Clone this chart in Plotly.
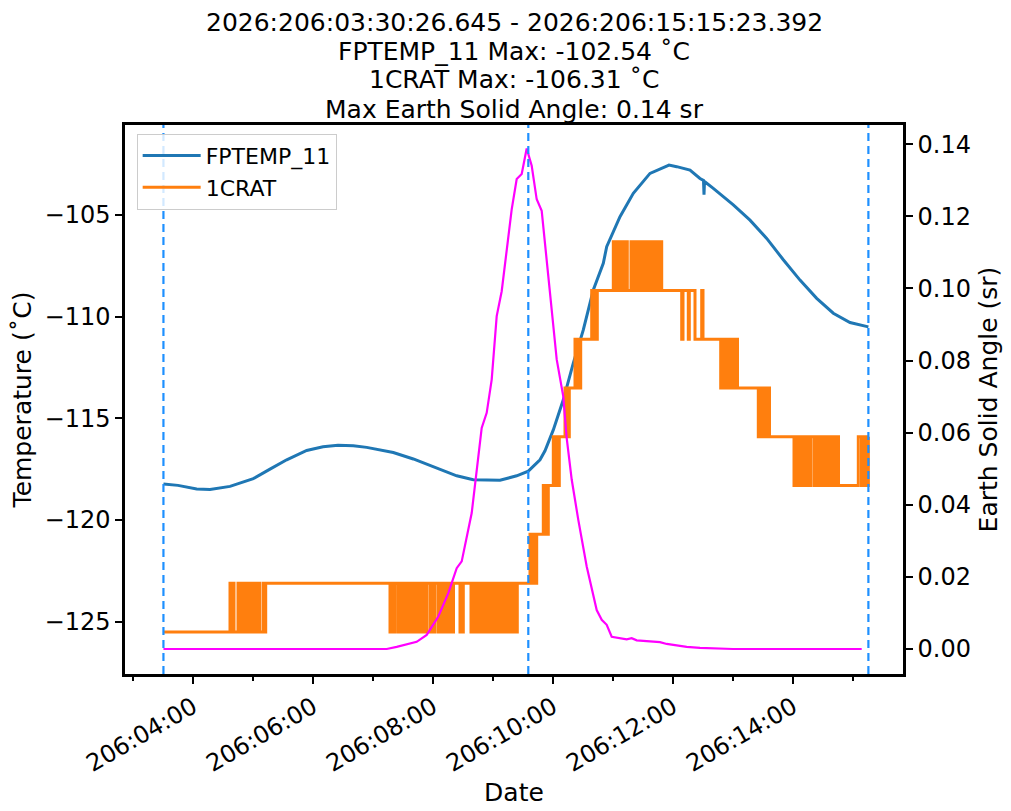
import pandas as pd
import plotly.graph_objects as go


# 2026:206 is 25 July 2026; all times below are minutes after 206:00:00
DAY_START = pd.Timestamp("2026-07-25")

event_min = [210.44, 575.3, 915.39]

fptemp_min = [
    210.44, 225, 243.7, 257, 277, 300.3, 317, 333.7, 353.7, 370, 385, 400.3,
    413.7, 440.3, 460.3, 483.7, 503.7, 520.3, 547, 563.7, 575.3, 587, 592,
    600.3, 610.3, 620.3, 630.3, 640.3, 650.3, 653.7, 667, 680.3, 697, 713.7,
    716, 723.7, 737, 747, 750.5, 751, 751.5, 760.3, 780.3, 797, 813.7, 830.3,
    847, 863.7, 880.3, 897, 913.7, 915.39,
]
fptemp_val = [
    -118.23, -118.30, -118.48, -118.50, -118.35, -117.97, -117.50, -117.04,
    -116.58, -116.40, -116.33, -116.35, -116.43, -116.68, -117.00, -117.45,
    -117.83, -118.02, -118.05, -117.83, -117.60, -117.04, -116.60, -115.57,
    -114.09, -112.29, -110.65, -108.69, -107.37, -106.56, -105.08, -103.93,
    -102.95, -102.59, -102.54, -102.62, -102.79, -103.20, -103.30, -104.00,
    -103.35, -103.69, -104.50, -105.25, -106.15, -107.20, -108.20, -109.10,
    -109.83, -110.29, -110.49, -110.50,
]

# 1CRAT is quantised; each change is a (time, level index) pair
crat_levels = [-125.51, -123.11, -120.71, -118.31, -115.91, -113.51, -111.11, -108.71, -106.31]
crat_min = [
    210.44,
    277, 277.8, 280, 281, 285, 286, 288.5, 289.5, 291, 292, 295, 296, 297, 298,
    299, 300, 301.5, 302.5, 303.5, 304.5, 305.5, 306.5, 310, 311, 312.7,
    437, 438, 439.5, 440.5, 441.5, 442.2,
    445.3, 446.3, 447.5, 448.5, 450, 451, 452.5, 453.5, 455, 456, 457.5, 458.5,
    460, 461, 462.5, 463.5, 465, 466, 467.5, 468.5, 470, 471, 472.5, 473.7,
    477, 478.3, 480, 482,
    485.3, 486.5, 488, 489, 490.5, 491.5, 493, 493.8, 495.3, 496.3, 497.5, 498.5,
    499.5, 500.5, 507, 508, 509.3, 510.3,
    517, 518, 519, 520, 521.2, 522.2, 523.5, 524.5, 525.7, 526.7, 528, 529,
    530, 531, 532.2, 533.2, 534.5, 535.5, 536.7, 537.7, 539, 540, 541, 542,
    543.3, 544.3, 545.5, 546.5, 547.7, 548.7, 550, 551, 552.2, 553.2, 554.5, 556,
    558, 559, 562, 563, 564.3,
    577, 578, 579, 580.5, 581.5, 582.5, 583.7,
    590.3, 591.3, 592.5, 593.5, 595.3,
    600.3, 601.3, 602.5, 603.5, 604.7, 605.5, 606.3,
    612, 613, 614.5, 615.5, 616.3,
    622, 623, 624.3, 625.3, 626.5, 627, 627.7,
    638.7, 639.7, 641, 642, 644.3,
    660.3, 661.3, 662.5, 663.5, 664.7, 665.7, 667, 668, 669.2, 670.2, 671.5,
    672.5, 673.5, 674.3,
    678, 679, 680, 681,
    682.7, 683.7, 685, 686, 687.2, 688.2, 689.5, 690.5, 691.7, 692.7, 694, 695,
    696.2, 697.2, 698.5, 699.5, 700.7, 701.7, 702.8, 703.7,
    705.3, 706.3, 707.5, 708.7,
    728.7, 730, 735.3, 736.3, 742, 748.7, 750,
    767.7, 768.7, 770, 771, 772.3, 773.3, 774.5, 775.5, 776.7, 777.7, 779, 780.3,
    783, 783.8, 784.5,
    805.3, 806.3, 807.5, 808.5, 809.7, 811, 814, 815, 816.5,
    841, 842, 843.2, 844.2, 845.5, 846.5, 847.7, 848.7, 850, 851, 852.2, 853.2,
    854.5, 855.5, 856.7, 857.7, 861, 862, 863.3, 864.3, 866.3, 867.3, 868.5,
    869.5, 870.7, 871.7, 873, 874, 875.2, 876.2, 877.5, 878.5, 879.7, 880.7,
    883, 884, 885.5,
    905.3, 906.3, 908.5, 909.5, 912, 913, 914.3, 915.39,
]
crat_level = [
    0,
    1, 0, 1, 0, 1, 0, 1, 0, 1, 0, 1, 0, 1, 0,
    1, 0, 1, 0, 1, 0, 1, 0, 1, 0, 1,
    0, 1, 0, 1, 0, 1,
    0, 1, 0, 1, 0, 1, 0, 1, 0, 1, 0, 1,
    0, 1, 0, 1, 0, 1, 0, 1, 0, 1, 0, 1,
    0, 1, 0, 1,
    0, 1, 0, 1, 0, 1, 0, 1, 0, 1, 0, 1,
    0, 1, 0, 1, 0, 1,
    1, 0, 1, 0, 1, 0, 1, 0, 1, 0, 1, 0,
    1, 0, 1, 0, 1, 0, 1, 0, 1, 0, 1, 0,
    1, 0, 1, 0, 1, 0, 1, 0, 1, 0, 1, 0,
    1, 0, 1, 0, 1,
    2, 1, 2, 1, 2, 1, 2,
    3, 2, 3, 2, 3,
    4, 3, 4, 3, 4, 3, 4,
    5, 4, 5, 4, 5,
    6, 5, 6, 5, 6, 5, 6,
    7, 6, 7, 6, 7,
    8, 7, 8, 7, 8, 7, 8, 7, 8, 7, 8,
    7, 8, 7,
    8, 7, 8, 7,
    8, 7, 8, 7, 8, 7, 8, 7, 8, 7, 8, 7,
    8, 7, 8, 7, 8, 7, 8, 7,
    8, 7, 8, 7,
    6, 7, 6, 7, 6, 7, 6,
    5, 6, 5, 6, 5, 6, 5, 6, 5, 6, 5, 6,
    5, 6, 5,
    4, 5, 4, 5, 4, 5, 4, 5, 4,
    3, 4, 3, 4, 3, 4, 3, 4, 3, 4, 3, 4,
    3, 4, 3, 4, 3, 4, 3, 4, 3, 4, 3,
    4, 3, 4, 3, 4, 3, 4, 3, 4, 3, 4, 3,
    4, 3, 4,
    4, 3, 4, 3, 4, 3, 4, 3,
]

solid_min = [
    210.44, 433.7, 443.7, 463.7, 473.7, 485.3, 495.3, 503.7, 508.7, 518.7,
    528.7, 532, 533.7, 538.7, 543.7, 548.7, 553.7, 558.7, 563.7, 568.7, 573.7,
    578.7, 583.7, 588.7, 595.3, 603.7, 610.3, 613.7, 618.7, 625.3, 633.7,
    643.7, 648.7, 653.7, 658.7, 673.7, 678.7, 683.7, 707, 713.7, 733.7, 747,
    780, 908.7,
]
solid_val = [
    0.0, 0.0, 0.0006, 0.0020, 0.0039, 0.0090, 0.0155, 0.0224, 0.0243, 0.0377,
    0.0613, 0.0645, 0.0655, 0.0747, 0.0923, 0.0992, 0.1099, 0.1219, 0.1303,
    0.1317, 0.1388, 0.1340, 0.1247, 0.1215, 0.1034, 0.0803, 0.0700, 0.0585,
    0.0470, 0.0358, 0.0229, 0.0108, 0.0081, 0.0067, 0.0034, 0.0027, 0.0030,
    0.0024, 0.0019, 0.0014, 0.0006, 0.0003, 0.0, 0.0,
]

title_lines = [
    "2026:206:03:30:26.645 - 2026:206:15:15:23.392",
    "FPTEMP_11 Max: -102.54 ˚C",
    "1CRAT Max: -106.31 ˚C",
    "Max Earth Solid Angle: 0.14 sr",
]


def to_time(minutes):
    return [DAY_START + pd.Timedelta(minutes=m) for m in minutes]


fig = go.Figure()
fig.add_trace(go.Scatter(
    x=to_time(fptemp_min), y=fptemp_val, mode="lines", name="FPTEMP_11",
    line={"color": "#1f77b4", "width": 3},
))
fig.add_trace(go.Scatter(
    x=to_time(crat_min), y=[crat_levels[i] for i in crat_level], mode="lines",
    name="1CRAT", line={"color": "#ff7f0e", "width": 3, "shape": "hv"},
))
fig.add_trace(go.Scatter(
    x=to_time(solid_min), y=solid_val, mode="lines", yaxis="y2", showlegend=False,
    line={"color": "#ff00ff", "width": 2.2},
))

for t in to_time(event_min):
    fig.add_shape(
        type="line", xref="x", yref="paper", x0=t, x1=t, y0=0, y1=1,
        line={"color": "#1e90ff", "width": 2.2, "dash": "8px,5px"},
    )

# title lines, stacked above the plot area (plot height is 549 px)
for i, line in enumerate(title_lines):
    fig.add_annotation(
        text=line, xref="paper", yref="paper", x=0.5, y=1 + (103 - 29 * i) / 549,
        xanchor="center", yanchor="middle", showarrow=False, font={"size": 25},
    )

axis_style = {
    "showline": True, "linecolor": "black", "linewidth": 2.5,
    "ticks": "outside", "ticklen": 7, "tickwidth": 2, "tickcolor": "black",
    "showgrid": False, "zeroline": False, "tickfont": {"size": 24},
    "automargin": False,
}

fig.update_layout(
    width=1003, height=803,
    margin={"l": 117, "r": 108, "t": 117, "b": 137},
    paper_bgcolor="white", plot_bgcolor="white",
    font={"family": "DejaVu Sans", "size": 21, "color": "black"},
    legend={"x": 0.015, "y": 0.984, "xanchor": "left", "yanchor": "top",
            "bgcolor": "rgba(255,255,255,0.8)", "bordercolor": "#cccccc", "borderwidth": 1,
            "font": {"size": 22}, "itemwidth": 58},
    xaxis={
        **axis_style, "mirror": True, "type": "date",
        "range": to_time([172, 950]),
        "tickformat": "%j:%H:%M", "dtick": 7200000, "tick0": DAY_START,
        "tickangle": -30,
        "minor": {"ticks": "outside", "dtick": 3600000, "ticklen": 4, "tickwidth": 1.5,
                  "tickcolor": "black"},
        "title": {"text": "Date", "standoff": 3},
    },
    yaxis={
        **axis_style, "mirror": True, "range": [-127.58, -100.57], "dtick": 5, "tick0": -125,
        "title": {"text": "Temperature (˚C)", "standoff": 6},
    },
    yaxis2={
        **axis_style, "overlaying": "y", "side": "right", "range": [-0.00693, 0.1453],
        "dtick": 0.02, "tick0": 0, "tickformat": ".2f",
        "title": {"text": "Earth Solid Angle (sr)", "standoff": 10},
    },
)

fig.write_html("out.html")
